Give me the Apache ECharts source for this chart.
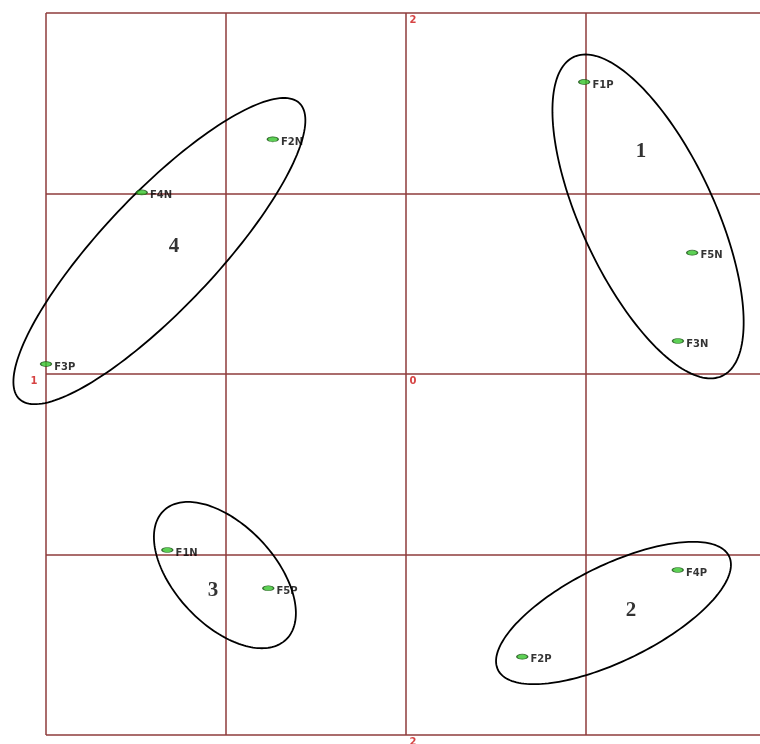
<!DOCTYPE html>
<html>
<head>
<meta charset="utf-8">
<script src="https://cdn.jsdelivr.net/npm/echarts@6/dist/echarts.min.js"></script>
<style>
  html, body { margin: 0; padding: 0; background: #fff; }
  #chart { width: 760px; height: 744px; }
</style>
</head>
<body>
<div id="chart"></div>
<script>
// factor points
const pointNames = ['F1P', 'F2N', 'F4N', 'F3P', 'F5N', 'F3N', 'F1N', 'F5P', 'F4P', 'F2P']
const pointX = [0.99, -0.74, -1.468, -2.0, 1.59, 1.511, -1.326, -0.765, 1.51, 0.646]
const pointY = [1.618, 1.30, 1.006, 0.055, 0.672, 0.183, -0.975, -1.187, -1.086, -1.566]

// cluster ellipses (centre, semi axes, rotation in degrees)
const clusterNames = ['1', '2', '3', '4']
const clusterCx = [1.345, 1.153, -1.006, -1.37]
const clusterCy = [0.873, -1.324, -1.114, 0.681]
const clusterA = [0.975, 0.715, 0.493, 1.13]
const clusterB = [0.37, 0.265, 0.277, 0.317]
const clusterAngle = [-65, 26.1, -46.5, 46.5]
const clusterLabelX = [1.306, 1.25, -1.072, -1.289]
const clusterLabelY = [1.235, -1.313, -1.202, 0.704]

// red axis marks
const axisMarkText = ['2', '0', '1', '2']
const axisMarkX = [0, 0, -2, 0]
const axisMarkY = [2, 0, 0, -2]

const chart = echarts.init(document.getElementById('chart'))

const ellipseData = clusterNames.map((n, i) =>
  [clusterCx[i], clusterCy[i], clusterA[i], clusterB[i], clusterAngle[i]])

function renderEllipse(params, api) {
  const cx = api.value(0), cy = api.value(1)
  const a = api.value(2), b = api.value(3)
  const t = api.value(4) * Math.PI / 180
  const pts = []
  for (let k = 0; k < 180; k++) {
    const u = k / 180 * Math.PI * 2
    const ex = a * Math.cos(u), ey = b * Math.sin(u)
    pts.push(api.coord([cx + ex * Math.cos(t) - ey * Math.sin(t),
                        cy + ex * Math.sin(t) + ey * Math.cos(t)]))
  }
  return {
    type: 'polygon',
    shape: { points: pts },
    style: { fill: 'none', stroke: '#000', lineWidth: 1.8 }
  }
}

const gridLine = { show: true, lineStyle: { color: '#8e3b3b', width: 1.5 } }

chart.setOption({
  backgroundColor: '#fff',
  animation: false,
  // the plot runs past the right edge of the page, so x stops just short of 2
  grid: { left: 46, right: 0, top: 13, bottom: 9 },
  xAxis: {
    type: 'value', min: -2, max: 1.967, interval: 1,
    axisLine: { show: false }, axisTick: { show: false }, axisLabel: { show: false },
    splitLine: Object.assign({ showMaxLine: false }, gridLine)
  },
  yAxis: {
    type: 'value', min: -2, max: 2, interval: 1,
    axisLine: { show: false }, axisTick: { show: false }, axisLabel: { show: false },
    splitLine: gridLine
  },
  series: [
    {
      type: 'custom',
      renderItem: renderEllipse,
      data: ellipseData,
      clip: false,
      silent: true,
      z: 3
    },
    {
      type: 'scatter',
      data: pointNames.map((n, i) => ({ name: n, value: [pointX[i], pointY[i]] })),
      symbol: 'circle',
      symbolSize: [11, 5],
      clip: false,
      itemStyle: { color: '#35c42a', borderColor: '#1b4f16', borderWidth: 1 },
      label: {
        show: true, position: 'right', distance: 2, offset: [0, 3],
        formatter: p => p.name,
        color: '#000', fontSize: 10, fontWeight: 'bold',
        fontFamily: 'DejaVu Sans'
      },
      z: 5
    },
    {
      type: 'scatter',
      data: clusterNames.map((n, i) => ({ name: n, value: [clusterLabelX[i], clusterLabelY[i]] })),
      symbolSize: 0,
      clip: false,
      label: {
        show: true, position: 'inside',
        formatter: p => p.name,
        color: '#000', fontSize: 21, fontWeight: 'bold',
        fontFamily: 'Liberation Serif'
      },
      z: 5
    },
    {
      type: 'scatter',
      data: axisMarkText.map((n, i) => ({
        name: n, value: [axisMarkX[i], axisMarkY[i]],
        label: { offset: axisMarkX[i] === -2 ? [-12, 7] : [7, 7] }
      })),
      symbolSize: 0,
      clip: false,
      label: {
        show: true, position: 'inside',
        formatter: p => p.name,
        color: '#cc1414', fontSize: 10, fontWeight: 'bold',
        fontFamily: 'DejaVu Sans'
      },
      z: 5
    }
  ]
})
</script>
</body>
</html>
